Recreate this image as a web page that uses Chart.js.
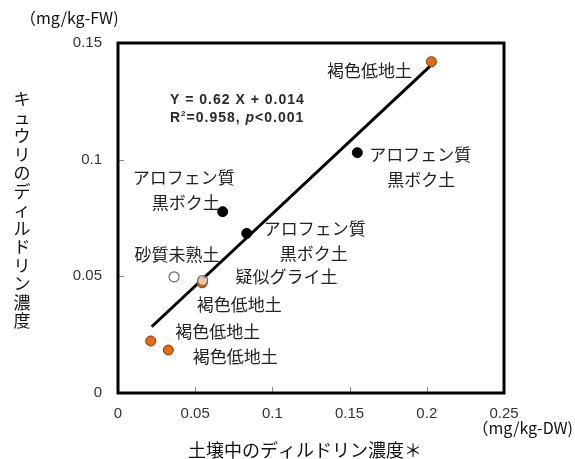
<!DOCTYPE html>
<html><head><meta charset="utf-8">
<script src="https://cdn.jsdelivr.net/npm/chart.js@4.4.1/dist/chart.umd.min.js"></script>
<style>html,body{margin:0;padding:0;background:#fff}#wrap{width:575px;height:459px;position:relative}</style>
</head><body><div id="wrap"><canvas id="c" width="575" height="459"></canvas></div>
<script>
// ---- data ----
const xTickLabels = ['0','0.05','0.1','0.15','0.2','0.25'];
const yTickLabels = ['0','0.05','0.1','0.15'];
// 褐色低地土 (orange)
const brownX = [0.203, 0.0212, 0.0326, 0.0545];
const brownY = [0.142, 0.0223, 0.0184, 0.0472];
// アロフェン質黒ボク土 (black)
const andoX = [0.155, 0.0678, 0.0834];
const andoY = [0.103, 0.0777, 0.0684];
// 砂質未熟土, 疑似グライ土 (open)
const openX = [0.0363, 0.0548];
const openY = [0.0498, 0.0482];
// regression line end points Y = 0.62 X + 0.014
const lineX = [0.0218, 0.202];
const lineY = [0.0284, 0.140];
const yTitle = 'キュウリのディルドリン濃度';
const xTitle = '土壌中のディルドリン濃度＊';
const yUnit = '（mg/kg-FW)';
const xUnit = '（mg/kg-DW)';
// labels: [dataset key, index, text lines]
const pointLabels = [
  ['brown',0,['褐色低地土']],
  ['ando',0,['アロフェン質','黒ボク土']],
  ['ando',1,['アロフェン質','黒ボク土']],
  ['ando',2,['アロフェン質','黒ボク土']],
  ['open',0,['砂質未熟土']],
  ['open',1,['疑似グライ土']],
  ['brown',3,['褐色低地土']],
  ['brown',1,['褐色低地土']],
  ['brown',2,['褐色低地土']]
];
// label offsets (px) for each line, relative to the point
const labelOffsets = [
  [[-62,9]],
  [[63,2],[64,27]],
  [[-39,-34],[-37,-9]],
  [[68,-5],[67,20]],
  [[3,-22]],
  [[84,-4]],
  [[37,22]],
  [[67,-9]],
  [[67,6]]
];

const zip = (xs, ys) => xs.map((x,i)=>({x, y: ys[i]}));
const JP = '"Noto Sans CJK JP", "Noto Sans", sans-serif';
const NUM = '"Liberation Sans", Arial, sans-serif';

const deco = {
  id: 'deco',
  beforeDatasetsDraw(chart) {
    const {ctx, chartArea: a, scales: {x, y}} = chart;
    ctx.save();
    ctx.strokeStyle = '#888'; ctx.lineWidth = 1;
    ctx.beginPath();
    for (let v = 1; v < xTickLabels.length - 1; v++) {
      const px = Math.round(x.getPixelForValue(parseFloat(xTickLabels[v]))) + 0.5;
      ctx.moveTo(px, a.bottom); ctx.lineTo(px, a.bottom - 6);
    }
    for (let v = 1; v < yTickLabels.length - 1; v++) {
      const py = Math.round(y.getPixelForValue(parseFloat(yTickLabels[v]))) + 0.5;
      ctx.moveTo(a.left, py); ctx.lineTo(a.left + 6, py);
    }
    ctx.stroke();
    ctx.strokeStyle = '#000'; ctx.lineWidth = 3;
    ctx.strokeRect(a.left, a.top, a.right - a.left, a.bottom - a.top);
    ctx.restore();
  },
  afterDatasetsDraw(chart) {
    const {ctx, scales: {x, y}} = chart;
    const src = {brown: [brownX, brownY], ando: [andoX, andoY], open: [openX, openY]};
    ctx.save();
    ctx.fillStyle = '#222';
    ctx.font = '17px ' + JP;
    ctx.textAlign = 'center'; ctx.textBaseline = 'middle';
    pointLabels.forEach((lab, i) => {
      const [key, idx, lines] = lab;
      const px = x.getPixelForValue(src[key][0][idx]);
      const py = y.getPixelForValue(src[key][1][idx]);
      lines.forEach((t, j) => {
        const [dx, dy] = labelOffsets[i][j];
        ctx.fillText(t, px + dx, py + dy);
      });
    });
    ctx.textAlign = 'left';
    ctx.font = 'bold 14px ' + NUM;
    ctx.letterSpacing = '1px';
    ctx.fillStyle = '#2a2a2a';
    ctx.fillText('Y = 0.62 X + 0.014', 170, 100);
    let cx = 170;
    const put = (t, font, dy) => { ctx.font = font; ctx.fillText(t, cx, 118 + (dy||0)); cx += ctx.measureText(t).width; };
    put('R', 'bold 14px ' + NUM);
    put('2', 'bold 8px ' + NUM, -4);
    put('=0.958, ', 'bold 14px ' + NUM);
    put('p', 'italic bold 14px ' + NUM);
    put('<0.001', 'bold 14px ' + NUM);
    ctx.letterSpacing = '0px';
    ctx.fillStyle = '#111';
    ctx.font = '17px ' + JP;
    ctx.textAlign = 'center';
    Array.from(yTitle).forEach((ch, i) => ctx.fillText(ch, 22, 99 + i * 18.5));
    ctx.font = '18px ' + JP;
    ctx.fillText(xTitle, 305, 450);
    ctx.font = '16px ' + JP;
    ctx.textAlign = 'left';
    ctx.fillText(yUnit, 20, 18);
    ctx.textAlign = 'right';
    ctx.fillText(xUnit, 573, 428);
    ctx.restore();
  }
};

new Chart(document.getElementById('c'), {
  type: 'scatter',
  data: {
    datasets: [
      {label: '砂質未熟土/疑似グライ土', data: zip(openX, openY), backgroundColor: 'rgba(255,255,255,0.6)', borderColor: '#666', borderWidth: 1.2, pointRadius: 5},
      {label: 'アロフェン質黒ボク土', data: zip(andoX, andoY), backgroundColor: '#000', borderColor: '#000', borderWidth: 1, pointRadius: 5},
      {label: '褐色低地土', data: zip(brownX, brownY), backgroundColor: '#E4690F', borderColor: '#7a3a12', borderWidth: 1, pointRadius: 5},
      {label: '回帰直線', data: zip(lineX, lineY), showLine: true, borderColor: '#000', borderWidth: 3, pointRadius: 0, fill: false}
    ]
  },
  options: {
    responsive: false,
    animation: false,
    layout: {padding: {top: 43, right: 71, left: 0, bottom: 0}},
    plugins: {legend: {display: false}, tooltip: {enabled: false}},
    scales: {
      x: {
        type: 'linear', min: 0, max: 0.25,
        afterFit: s => { s.height = 66; },
        afterBuildTicks: s => { s.ticks = xTickLabels.map(v => ({value: parseFloat(v)})); },
        ticks: {callback: (v, i) => xTickLabels[i], color: '#333', font: {family: NUM, size: 15}, padding: 12, maxRotation: 0},
        grid: {display: false, drawTicks: false},
        border: {display: false}
      },
      y: {
        type: 'linear', min: 0, max: 0.15,
        afterFit: s => { s.width = 118; },
        afterBuildTicks: s => { s.ticks = yTickLabels.map(v => ({value: parseFloat(v)})); },
        ticks: {callback: (v, i) => yTickLabels[i], color: '#333', font: {family: NUM, size: 15}, padding: 16},
        grid: {display: false, drawTicks: false},
        border: {display: false}
      }
    }
  },
  plugins: [deco]
});
</script></body></html>
